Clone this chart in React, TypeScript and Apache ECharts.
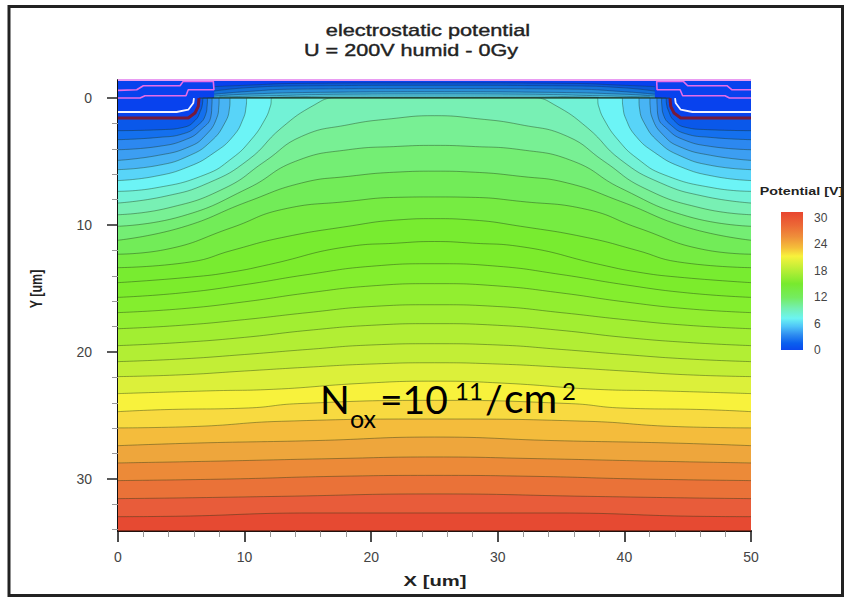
import React, { useEffect, useRef } from "react";
import * as echarts from "echarts";

// Potential contours: [X um, Y um], shallow to deep
const c01 = [[0,2.57],[3.45,2.49],[5.2,2.3],[6.1,1.75],[6.5,1.05],[6.68,0.4],[6.71,0],[7,0],[43,0],[43.29,0],[43.32,0.4],[43.5,1.05],[43.9,1.75],[44.8,2.3],[46.55,2.49],[50,2.57]];
const c02 = [[0,3.28],[3.2,3.1],[5.2,2.8],[6.3,2.15],[6.92,1.31],[7.05,0.5],[7.08,0],[7.4,0],[42.6,0],[42.92,0],[42.95,0.5],[43.08,1.31],[43.7,2.15],[44.8,2.8],[46.8,3.1],[50,3.28]];
const c03 = [[0,4.07],[3.2,3.81],[5.4,3.25],[6.6,2.45],[7.34,1.44],[7.42,0.5],[7.45,0],[7.8,0],[42.2,0],[42.55,0],[42.58,0.5],[42.66,1.44],[43.4,2.45],[44.6,3.25],[46.8,3.81],[50,4.07]];
const c04 = [[0,4.91],[3.2,4.51],[5.6,3.85],[6.9,2.95],[7.8,1.57],[7.97,0.6],[8,0],[8.4,0],[41.6,0],[42,0],[42.03,0.6],[42.2,1.57],[43.1,2.95],[44.4,3.85],[46.8,4.51],[50,4.91]];
const c05 = [[0,5.64],[3.2,5.3],[5.6,4.55],[7.3,3.45],[8.45,1.94],[8.82,0.7],[8.87,0],[9.3,0],[40.7,0],[41.13,0],[41.18,0.7],[41.55,1.94],[42.7,3.45],[44.4,4.55],[46.8,5.3],[50,5.64]];
const c06 = [[0,6.5],[2.9,6.17],[5.6,5.4],[7.6,4.3],[9.1,3],[9.9,1.6],[10.13,0.6],[10.18,0],[10.6,0],[39.4,0],[39.82,0],[39.87,0.6],[40.1,1.6],[40.9,3],[42.4,4.3],[44.4,5.4],[47.1,6.17],[50,6.5]];
const c07 = [[0,7.35],[2.9,7.09],[6.87,6.04],[9,4.75],[10.5,3.3],[11.6,1.7],[12.05,0.6],[12.16,0],[12.6,0],[37.4,0],[37.84,0],[37.95,0.6],[38.4,1.7],[39.5,3.3],[41,4.75],[43.13,6.04],[47.1,7.09],[50,7.35]];
const c08 = [[0,8.27],[3.7,7.74],[7.13,6.69],[10.3,4.86],[12.9,2.36],[15.55,0.52],[17.1,0],[17.8,0],[32.2,0],[32.9,0],[34.45,0.52],[37.1,2.36],[39.7,4.86],[42.87,6.69],[46.3,7.74],[50,8.27]];
const c09 = [[0,9.19],[3.95,8.66],[8.45,7.09],[11.6,4.99],[14.5,3.02],[18.2,2.1],[21.6,1.63],[25,1.39],[28.4,1.63],[31.8,2.1],[35.5,3.02],[38.4,4.99],[41.55,7.09],[46.05,8.66],[50,9.19]];
const c10 = [[0,10.1],[5,9.32],[10.3,7.09],[14,4.99],[18.2,4.07],[22.1,3.81],[25,3.73],[27.9,3.81],[31.8,4.07],[36,4.99],[39.7,7.09],[45,9.32],[50,10.1]];
const c11 = [[0,11.2],[5,10.2],[10.3,8.14],[14.5,6.69],[18.2,6.17],[22.1,5.83],[25,5.76],[27.9,5.83],[31.8,6.17],[35.5,6.69],[39.7,8.14],[45,10.2],[50,11.2]];
const c12 = [[0,12.3],[3.7,11.94],[9,10.2],[12.9,8.79],[18.2,8.14],[22.1,7.82],[25,7.79],[27.9,7.82],[31.8,8.14],[37.1,8.79],[41,10.2],[46.3,11.94],[50,12.3]];
const c13 = [[0,13.36],[5.8,12.9],[9,12],[12.9,11],[18.2,10.1],[22.1,9.6],[25,9.5],[27.9,9.6],[31.8,10.1],[37.1,11],[41,12],[44.2,12.9],[50,13.36]];
const c14 = [[0,14.54],[5.8,14.1],[9,13.7],[11.9,13.12],[18.2,11.7],[22,11.43],[25,11.3],[28,11.43],[31.8,11.7],[38.1,13.12],[41,13.7],[44.2,14.1],[50,14.54]];
const c15 = [[0,15.7],[5,15.35],[10,14.7],[15,13.9],[20,13.25],[25,13.05],[30,13.25],[35,13.9],[40,14.7],[45,15.35],[50,15.7]];
const c16 = [[0,16.9],[5,16.6],[10,16.05],[15,15.35],[20,14.8],[25,14.62],[30,14.8],[35,15.35],[40,16.05],[45,16.6],[50,16.9]];
const c17 = [[0,18.17],[5,17.9],[10,17.45],[15,16.9],[20,16.42],[25,16.28],[30,16.42],[35,16.9],[40,17.45],[45,17.9],[50,18.17]];
const c18 = [[0,19.5],[5,19.25],[10,18.85],[15,18.3],[20,17.9],[25,17.77],[30,17.9],[35,18.3],[40,18.85],[45,19.25],[50,19.5]];
const c19 = [[0,20.76],[5,20.55],[10,20.2],[15,19.8],[20,19.45],[25,19.35],[30,19.45],[35,19.8],[40,20.2],[45,20.55],[50,20.76]];
const c20 = [[0,21.94],[5,21.8],[10,21.5],[15,21.2],[20,20.95],[25,20.85],[30,20.95],[35,21.2],[40,21.5],[45,21.8],[50,21.94]];
const c21 = [[0,23.28],[7.7,23.05],[11.6,22.97],[19.5,22.46],[25,22.3],[30.5,22.46],[38.4,22.97],[42.3,23.05],[50,23.28]];
const c22 = [[0,24.7],[3.7,24.54],[10.3,24.41],[14.2,24.07],[25,23.81],[35.8,24.07],[39.7,24.41],[46.3,24.54],[50,24.7]];
const c23 = [[0,25.98],[6.3,25.86],[12.9,25.46],[25,25.28],[37.1,25.46],[43.7,25.86],[50,25.98]];
const c24 = [[0,27.38],[6.3,27.17],[15.55,26.98],[25,26.7],[34.45,26.98],[43.7,27.17],[50,27.38]];
const c25 = [[0,28.74],[7.66,28.6],[16.9,28.4],[25,28.27],[33.1,28.4],[42.34,28.6],[50,28.74]];
const c26 = [[0,30.13],[9,30],[16.9,29.8],[25,29.72],[33.1,29.8],[41,30],[50,30.13]];
const c27 = [[0,31.55],[4.5,31.5],[12.9,31.37],[25,31.18],[37.1,31.37],[45.5,31.5],[50,31.55]];
const c28 = [[0,32.97],[3.7,32.95],[15.55,32.68],[25,32.68],[34.45,32.68],[46.3,32.95],[50,32.97]];

const contours = [c01,c02,c03,c04,c05,c06,c07,c08,c09,c10,c11,c12,c13,c14,c15,c16,c17,c18,c19,c20,c21,c22,c23,c24,c25,c26,c27,c28];
const bandColors = ["#1470ee","#2c88f0","#3c9ef2","#48b4f4","#58d4f8","#6cf4f6","#72f2d6","#78f0b4","#78f094","#74ee74","#72ec58","#76ec42","#78ec30","#7cec2c","#84ee2e","#92ee30","#a2ee32","#b2ee34","#c2ee36","#dcf03a","#f8f23c","#f8da40","#f4bc3c","#eea63c","#ec8a38","#ea7238","#e85c3a","#e64a32"];

// Oxide layers above the silicon surface
const ox1 = [[7.6,-0.9],[10,-1.0],[14,-1.15],[25,-1.2],[36,-1.15],[40,-1.0],[42.4,-0.9]];
const ox2 = [[7.6,-0.55],[10,-0.8],[14,-0.95],[25,-1.0],[36,-0.95],[40,-0.8],[42.4,-0.55]];
const ox3 = [[7.6,-0.3],[10,-0.5],[14,-0.7],[25,-0.75],[36,-0.7],[40,-0.5],[42.4,-0.3]];
const ox4 = [[7.6,-0.15],[10,-0.3],[16,-0.45],[25,-0.5],[34,-0.45],[40,-0.3],[42.4,-0.15]];
const ox5 = [[8,-0.08],[12,-0.18],[18,-0.3],[25,-0.32],[32,-0.3],[38,-0.18],[42,-0.08]];
const ox6 = [[12,-0.05],[18,-0.15],[25,-0.15],[32,-0.15],[38,-0.05]];
const oxideLayers = [ox1,ox2,ox3,ox4,ox5,ox6];
const oxideColors = ["#0a58d8","#1472d8","#2a90d8","#3cacd8","#54cce0","#6cf0ec"];

const surface = [[6.4,0],[43.6,0]];
const plotTop = [[0,-1.42],[50,-1.42]];
const plotBottom = [[0,34.1],[50,34.1]];

const junctionLeft = [[0,1.57],[5.55,1.57],[6.08,1.18],[6.34,0.66],[6.4,0]];
const junctionRight = [[43.6,0],[43.66,0.66],[43.92,1.18],[44.45,1.57],[50,1.57]];
const junctionFull = [...junctionLeft, ...junctionRight];
const whiteLeft = [[0,1.1],[4.63,1.1],[5.55,0.92],[5.95,0.39],[6,0]];
const whiteRight = [[44,0],[44.05,0.39],[44.45,0.92],[45.37,1.1],[50,1.1]];

const magentaLeft = [[0,-0.6],[1.48,-0.65],[2,-0.97],[4.9,-0.97],[5.15,-1.31],[7.53,-1.31],[7.58,-0.65],[5.55,-0.65],[5.37,-0.18],[2.13,-0.18],[1.74,0],[0,0]];
const magentaRight = [[50,-0.65],[48.5,-0.65],[48.1,-0.97],[45,-0.97],[44.65,-1.31],[42.55,-1.31],[42.58,-0.65],[44.4,-0.65],[44.6,-0.18],[47.95,-0.18],[48.3,0],[50,0]];

const xLabels = [0,10,20,30,40,50];
const xMinor = [2,4,6,8,12,14,16,18,22,24,26,28,32,34,36,38,42,44,46,48];
const yLabels = [0,10,20,30];
const yMinor = [2,4,6,8,12,14,16,18,22,24,26,28,32,34];
const barLabels = [0,6,12,18,24,30];
const barStops = [[0,"#e8452f"],[0.1,"#ec6a36"],[0.18,"#ef8f3a"],[0.26,"#f5bf3a"],[0.32,"#f8f23c"],[0.42,"#b8ee36"],[0.52,"#78ea2e"],[0.62,"#74ec60"],[0.7,"#74f0b4"],[0.77,"#6cf4f2"],[0.83,"#4ec4f8"],[0.89,"#2e8cf0"],[0.95,"#0a60ee"],[1,"#0a48ee"]];

const font = "'Liberation Sans', Arial, sans-serif";
const ink = "#222";
const contourLine = "rgba(30,50,20,0.45)";

const plain = (name: string, data: number[][], color: string, width: number, z: number) => ({
  name, type: "line", data, symbol: "none", silent: true, z,
  lineStyle: { color, width }, xAxisIndex: 0, yAxisIndex: 0,
});
const area = (name: string, data: number[][], color: string, line: string, z: number, smooth = 0.5) => ({
  name, type: "line", data, symbol: "none", silent: true, z, smooth,
  lineStyle: { color: line, width: 0.9 },
  areaStyle: { color, opacity: 1, origin: "end" },
  xAxisIndex: 0, yAxisIndex: 0,
});
const text = (t: string, x: number, y: number, size: number, extra: any = {}, scale: any = {}, rot = 0) => ({
  type: "text", x, y, rotation: rot, silent: true, z: 50, ...scale,
  style: { text: t, fontFamily: font, fontSize: size, fill: ink, align: "center", verticalAlign: "middle", ...extra },
});
const note = (t: string, x: number, y: number, size: number) => ({
  type: "text", x, y, silent: true, z: 60,
  style: { text: t, fontFamily: "Lato, 'Noto Sans', sans-serif", fontSize: size, fill: "#000", align: "left", verticalAlign: "top" },
});

export default function App() {
  const ref = useRef<HTMLDivElement>(null);
  useEffect(() => {
    const chart = echarts.init(ref.current!, undefined, { renderer: "svg" });
    let z = 2;
    const series: any[] = [];
    series.push(area("base", plotTop, "#0842ee", "#e68cf0", z++, 0));
    oxideLayers.forEach((d, i) => series.push(area("oxide" + (i + 1), d, oxideColors[i], "rgba(20,50,90,0.5)", z++)));
    series.push(area("implant", junctionFull, "#0a58ea", "rgba(0,0,0,0)", z++, 0));
    contours.forEach((d, i) => series.push(area("c" + (i + 1), d, bandColors[i], contourLine, z++)));
    series.push(plain("surface", surface, "rgba(30,60,60,0.7)", 1.2, z++));
    series.push(plain("bottom", plotBottom, "rgba(60,20,10,0.7)", 1.4, z++));
    series.push(plain("junctionL", junctionLeft, "#761a3c", 3, z++));
    series.push(plain("junctionR", junctionRight, "#761a3c", 3, z++));
    series.push(plain("whiteL", whiteLeft, "#f4f2ff", 1.8, z++));
    series.push(plain("whiteR", whiteRight, "#f4f2ff", 1.8, z++));
    series.push(plain("magentaL", magentaLeft, "#e66ce8", 1.6, z++));
    series.push(plain("magentaR", magentaRight, "#e66ce8", 1.6, z++));
    series.push(plain("top", plotTop, "#e99cf2", 2, z++));
    series.push({
      name: "scale", type: "bar", data: [31.36], barWidth: "100%", silent: true,
      xAxisIndex: 2, yAxisIndex: 2,
      itemStyle: {
        color: new echarts.graphic.LinearGradient(0, 0, 0, 1, barStops.map(([offset, color]) => ({ offset, color }))),
      },
    });

    chart.setOption({
      animation: false,
      backgroundColor: "#fff",
      grid: [
        { left: 118, top: 80, width: 633, height: 451 },
        { left: 781, top: 212, width: 22, height: 138 },
      ],
      xAxis: [
        {
          type: "value", gridIndex: 0, min: 0, max: 50, position: "bottom",
          splitLine: { show: false },
          axisLine: { onZero: false, lineStyle: { color: "#111", width: 2 } },
          axisTick: { length: 11, lineStyle: { color: "#111", width: 1.5 }, customValues: xLabels },
          axisLabel: { customValues: xLabels, color: "#444", fontFamily: font, fontSize: 14, margin: 19 },
        },
        {
          type: "value", gridIndex: 0, min: 0, max: 50, position: "bottom", offset: 0,
          splitLine: { show: false },
          axisLine: { show: false, onZero: false },
          axisTick: { length: 6, lineStyle: { color: "#999", width: 1 }, customValues: xMinor },
          axisLabel: { show: false },
        },
        { type: "category", gridIndex: 1, data: [""], show: false },
      ],
      yAxis: [
        {
          type: "value", gridIndex: 0, min: -1.42, max: 34.1, inverse: true, position: "left",
          splitLine: { show: false },
          axisLine: { onZero: false, lineStyle: { color: "#111", width: 2 } },
          axisTick: { length: 11, lineStyle: { color: "#222", width: 1.5 }, customValues: yLabels },
          axisLabel: { customValues: yLabels, color: "#444", fontFamily: font, fontSize: 14, margin: 26 },
        },
        {
          type: "value", gridIndex: 0, min: -1.42, max: 34.1, inverse: true, position: "left", offset: 0,
          splitLine: { show: false },
          axisLine: { show: false, onZero: false },
          axisTick: { length: 6, lineStyle: { color: "#999", width: 1 }, customValues: yMinor },
          axisLabel: { show: false },
        },
        {
          type: "value", gridIndex: 1, min: 0, max: 31.36, position: "right",
          splitLine: { show: false }, axisLine: { show: false },
          axisTick: { show: false, customValues: barLabels },
          axisLabel: { customValues: barLabels, color: "#444", fontFamily: font, fontSize: 12, margin: 11 },
        },
      ],
      series,
      graphic: [
        { type: "rect", silent: true, z: 70, shape: { x: 9, y: 6.5, width: 833.5, height: 589 }, style: { fill: "none", stroke: "#222", lineWidth: 3 } },
        text("electrostatic potential", 428, 30, 17, { stroke: "#222", lineWidth: 0.4 }, { scaleX: 1.28 }),
        text("U = 200V humid - 0Gy", 411, 50, 17, { stroke: "#222", lineWidth: 0.4 }, { scaleX: 1.27 }),
        text("Y [um]", 36, 289, 12.5, { fontWeight: "bold" }, { scaleY: 1.3 }, Math.PI / 2),
        text("X [um]", 435, 581, 15, { fontWeight: "bold" }, { scaleX: 1.35 }),
        text("Potential [V]", 801.5, 191, 11, { fontWeight: "bold" }, { scaleX: 1.3 }),
        note("N", 320, 379, 39),
        note("ox", 350, 405, 25),
        note("=10", 380, 379, 39),
        note("11", 455, 378, 24),
        note("/", 485, 379, 39),
        note("cm", 504, 377, 41),
        note("2", 562, 378, 24),
      ],
    });
    return () => chart.dispose();
  }, []);
  return <div ref={ref} style={{ position: "fixed", left: 0, top: 0, width: 844, height: 598 }} />;
}
